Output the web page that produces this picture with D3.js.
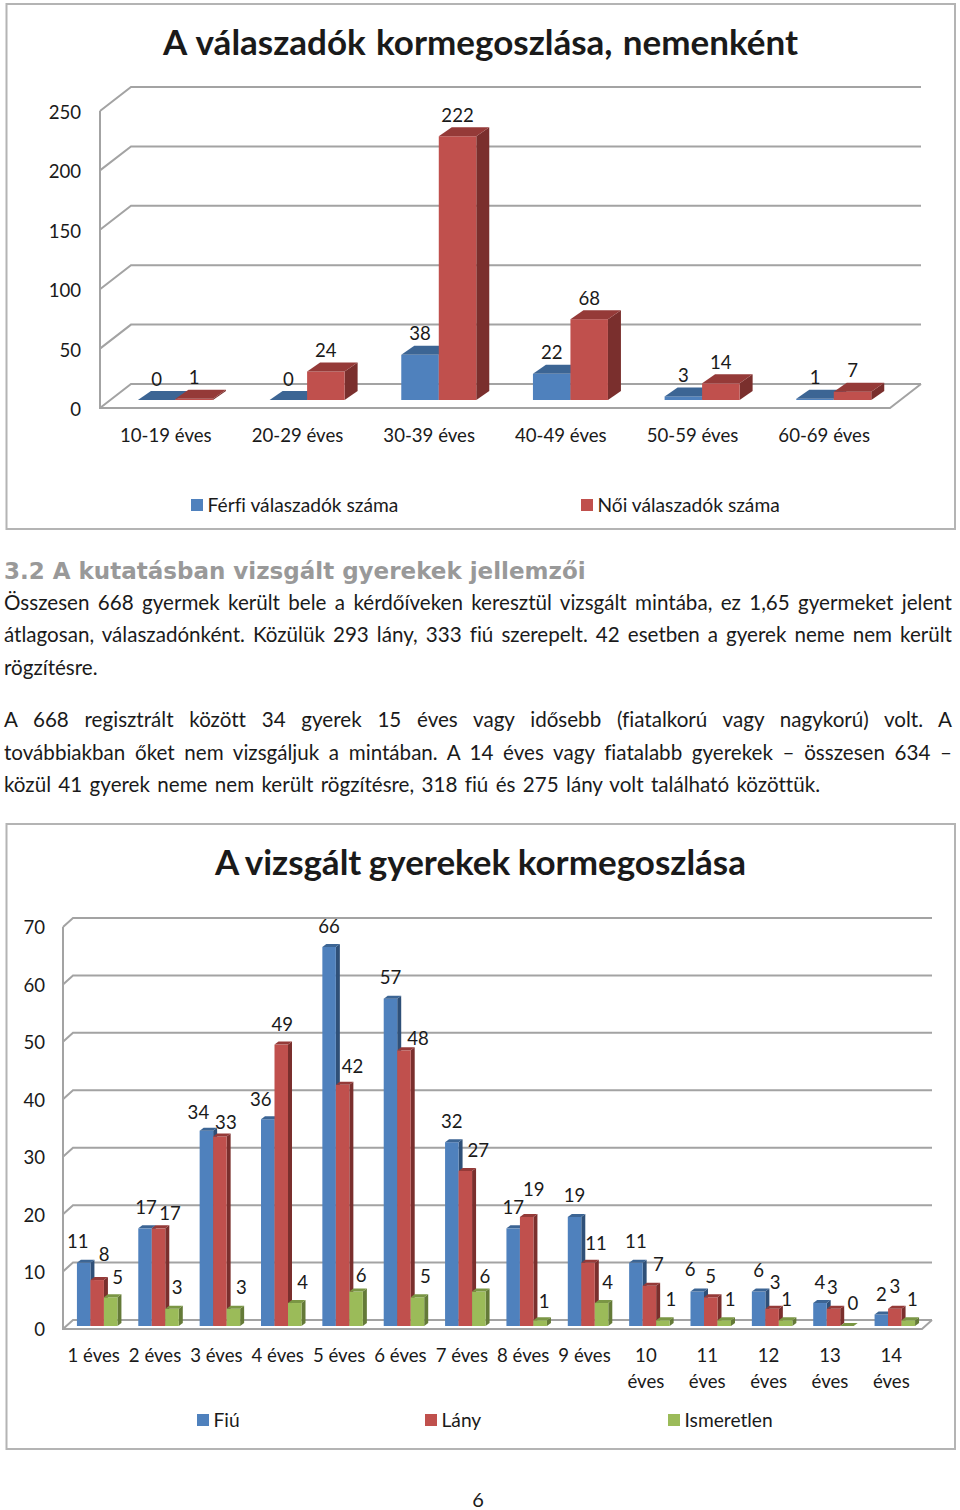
<!DOCTYPE html>
<html lang="hu">
<head>
<meta charset="utf-8">
<script src="https://cdn.jsdelivr.net/npm/d3@7"></script>
<style>
html,body{margin:0;padding:0;background:#fff}
svg{display:block}
text{font-family:Lato,"Noto Sans",sans-serif;fill:#1a1a1a;font-variant-ligatures:none}
</style>
</head>
<body>
<div id="chart"></div>
<script>
// ---- chart 1 data ----
const ageGroups = ["10-19 éves","20-29 éves","30-39 éves","40-49 éves","50-59 éves","60-69 éves"];
const men = [0,0,38,22,3,1];
const women = [1,24,222,68,14,7];
const adultTicks = [0,50,100,150,200,250];
const adultSeries = ["Férfi válaszadók száma","Női válaszadók száma"];
// ---- chart 2 data ----
const childAges = ["1 éves","2 éves","3 éves","4 éves","5 éves","6 éves","7 éves","8 éves","9 éves","10 éves","11 éves","12 éves","13 éves","14 éves"];
const boys = [11,17,34,36,66,57,32,17,19,11,6,6,4,2];
const girls = [8,17,33,49,42,48,27,19,11,7,5,3,3,3];
const unknown = [5,3,3,4,6,5,6,1,4,1,1,1,0,1];
const childTicks = [0,10,20,30,40,50,60,70];
const childSeries = ["Fiú","Lány","Ismeretlen"];
// ---- text ----
const title1 = "A válaszadók kormegoszlása, nemenként";
const title2 = "A vizsgált gyerekek kormegoszlása";
const heading = "3.2 A kutatásban vizsgált gyerekek jellemzői";
const bodyLines = [
 "Összesen 668 gyermek került bele a kérdőíveken keresztül vizsgált mintába, ez 1,65 gyermeket jelent",
 "átlagosan, válaszadónként. Közülük 293 lány, 333 fiú szerepelt. 42 esetben a gyerek neme nem került",
 "rögzítésre.",
 "A 668 regisztrált között 34 gyerek 15 éves vagy idősebb (fiatalkorú vagy nagykorú) volt. A",
 "továbbiakban őket nem vizsgáljuk a mintában. A 14 éves vagy fiatalabb gyerekek – összesen 634 –",
 "közül 41 gyerek neme nem került rögzítésre, 318 fiú és 275 lány volt található közöttük."
];
const pageNumber = "6";

// ---- layout / style ----
const W = 960, H = 1510;
const palette = {
  blue:{front:"#4f81bd",top:"#3c6594",side:"#2f5078"},
  red:{front:"#c0504d",top:"#953a38",side:"#7a2f2d"},
  green:{front:"#9bbb59",top:"#7a9644",side:"#647a38"}
};
const gridColor = "#a3a3a3", frameColor = "#b4b4b4";
// hand-placed data label nudges in the original, per age group: [boy, girl, unknown] as [dx, dy]
const childLabelNudge = [
 [[-6,-21],[7,-26],[7,-20]],[[1,-21],[11.5,-15],[5,-21]],[[-8,-18],[6,-14],[8,-21]],
 [[-7,-20],[1,-20],[8,-21]],[[0,-20],[10,-18],[5,-16]],[[0,-21],[14,-12],[8,-21]],
 [[0,-21],[13,-20],[6,-15]],[[0,-21],[7,-27],[4,-19]],[[0,-21],[8,-19],[6,-21]],
 [[0,-21],[9,-21],[8,-21]],[[-7,-22],[0,-21],[6,-21]],[[0,-21],[3,-26],[1,-21]],
 [[0,-21],[-1,-21],[6,-23]],[[0,-20],[0,-22],[4,-21]]
];

const svg = d3.select("#chart").append("svg").attr("width",W).attr("height",H).attr("viewBox",[0,0,W,H]);

function frame(y0,y1){
  svg.append("rect").attr("x",6.5).attr("y",y0).attr("width",948.5).attr("height",y1-y0)
    .attr("fill","#fff").attr("stroke",frameColor).attr("stroke-width",2);
}

function fitted(sel,target){
  const n = sel.node().getComputedTextLength();
  const spaces = (sel.text().match(/ /g)||[]).length;
  sel.attr("word-spacing",(target-n)/spaces);
  return sel;
}

function chart3d(o){
  const g = svg.append("g");
  const y = d3.scaleLinear().domain(o.domain).range([o.bottom,o.top]);
  const x = d3.scaleBand().domain(o.categories).range([o.left,o.right]);
  const inner = d3.scaleBand().domain(o.series.map(s=>s.name)).range([0,o.groupWidth]);
  const bw = inner.bandwidth();
  const groupStart = c => x(c)+x.bandwidth()/2-o.groupWidth/2+o.depthX*o.shift;

  // walls and floor
  const wall = g.append("g").attr("fill","none").attr("stroke",gridColor).attr("stroke-width",o.gridWidth);
  wall.selectAll("path.grid").data(o.ticks).join("path").attr("class","grid")
    .attr("d",t=>`M${o.left},${y(t)}L${o.left+o.depthX},${y(t)-o.depthY}L${o.right+o.depthX},${y(t)-o.depthY}`);
  wall.append("path").attr("d",`M${o.left},${y(o.domain[1])}L${o.left},${y(0)}L${o.right},${y(0)}L${o.right+o.depthX},${y(0)-o.depthY}`);

  // bars, drawn group by group, series by series so the nearer box overlaps
  o.categories.forEach((c,i)=>{
    o.series.forEach((s,j)=>{
      const v = s.values[i], col = s.color;
      const x0 = groupStart(c)+inner(s.name), x1 = x0+bw;
      const base = y(0)-o.depthY*o.baseShift, topY = y(v)-o.depthY*o.baseShift;
      const bx = o.barDepthX, by = o.barDepthY;
      if(v>0){
        g.append("path").attr("fill",col.side).attr("d",`M${x1},${topY}L${x1+bx},${topY-by}L${x1+bx},${base-by}L${x1},${base}Z`);
        g.append("rect").attr("x",x0).attr("y",topY).attr("width",bw).attr("height",base-topY).attr("fill",col.front);
      }
      g.append("path").attr("fill",col.top).attr("d",`M${x0},${topY}L${x0+bx},${topY-by}L${x1+bx},${topY-by}L${x1},${topY}Z`);
    });
  });
  // data labels on top of everything
  o.categories.forEach((c,i)=>{
    o.series.forEach((s,j)=>{
      const v = s.values[i];
      const n = o.nudge ? o.nudge[i][j] : [0,-21];
      g.append("text").attr("text-anchor","middle").attr("font-size",o.fontSize)
        .attr("x",groupStart(c)+inner(s.name)+bw/2+n[0])
        .attr("y",y(v)-o.depthY*o.baseShift+n[1]).attr("dy","0.35em").text(v);
    });
  });

  // value axis labels
  const yAxis = d3.axisLeft(y).tickValues(o.ticks).tickSize(0).tickPadding(o.left-o.axisLabelX);
  const ya = g.append("g").attr("transform",`translate(${o.left},${o.axisLabelDy})`).call(yAxis);
  ya.select(".domain").remove();
  ya.selectAll("text").attr("font-size",o.fontSize).style("font-family","Lato").attr("fill","#1a1a1a");

  // category labels
  const xa = g.append("g");
  o.categories.forEach(c=>{
    const parts = o.wrap && c.length>6 ? c.split(" ") : [c];
    parts.forEach((p,k)=>{
      xa.append("text").attr("text-anchor","middle").attr("font-size",o.fontSize)
        .attr("x",x(c)+x.bandwidth()/2).attr("y",o.catY+k*26).attr("dy","0.35em").text(p);
    });
  });

  // legend
  o.series.forEach((s,j)=>{
    g.append("rect").attr("x",o.legendX[j]).attr("y",o.legendY-6).attr("width",12).attr("height",12).attr("fill",s.color.front);
    g.append("text").attr("x",o.legendX[j]+16.5).attr("y",o.legendY).attr("dy","0.35em").attr("font-size",o.legendSize).text(s.name);
  });
}

function title(text,yPos,width){
  const t = svg.append("text").attr("x",480.5).attr("y",yPos).attr("dy","0.35em").attr("text-anchor","middle")
    .attr("font-size",35).attr("font-weight",700).text(text);
  fitted(t,width);
}

// ---- chart 1 ----
frame(4,529);
title(title1,43,635);
chart3d({
  categories:ageGroups, domain:[0,250], ticks:adultTicks,
  series:[{name:adultSeries[0],values:men,color:palette.blue},{name:adultSeries[1],values:women,color:palette.red}],
  left:100,right:890,top:111,bottom:408,depthX:31,depthY:24,shift:0.31,baseShift:1/3,
  groupWidth:75,barDepthX:13,barDepthY:9,gridWidth:2,fontSize:18.6,legendSize:19.2,axisLabelX:81,axisLabelDy:1.5,catY:435,
  legendX:[191,581],legendY:505
});

// ---- text block ----
svg.append("text").attr("x",4).attr("y",579).attr("font-size",23).attr("font-weight",700)
  .style("font-family","'DejaVu Sans'").style("fill","#999").text(heading);
const lineY = [603,635,668,720,753,785], lineEnd = [952,952,102,952,952,820];
bodyLines.forEach((l,i)=>{
  const t = svg.append("text").attr("x",4).attr("y",lineY[i]).attr("dy","0.35em").attr("font-size",20.6).text(l);
  fitted(t,lineEnd[i]-4);
});

// ---- chart 2 ----
frame(824,1449);
title(title2,863,531);
chart3d({
  categories:childAges, domain:[0,70], ticks:childTicks,
  series:[{name:childSeries[0],values:boys,color:palette.blue},{name:childSeries[1],values:girls,color:palette.red},{name:childSeries[2],values:unknown,color:palette.green}],
  left:63,right:922,top:927,bottom:1329,depthX:10,depthY:9,shift:0.35,baseShift:1/3,
  groupWidth:40.5,barDepthX:4,barDepthY:3,gridWidth:2,fontSize:18.6,legendSize:19.2,axisLabelX:45,axisLabelDy:1,catY:1355,wrap:true,
  nudge:childLabelNudge,legendX:[197,425,668],legendY:1420
});

svg.append("text").attr("x",478).attr("y",1500).attr("dy","0.35em").attr("text-anchor","middle").attr("font-size",20).text(pageNumber);
</script>
</body>
</html>
